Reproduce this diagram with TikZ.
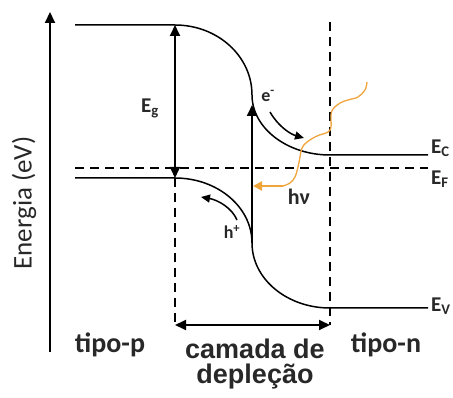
\documentclass[tikz,border=0pt]{standalone}
\usepackage{fontspec}
\setmainfont{Carlito}
\newfontfamily\widefont{Liberation Sans}
\usetikzlibrary{arrows.meta,positioning}

\definecolor{txtgray}{RGB}{40,40,40}
\definecolor{photon}{RGB}{240,165,60}

\tikzset{
  band/.style={line width=1.5pt},
  guide/.style={line width=1.3pt, dash pattern=on 9pt off 6pt},
  dblarrow/.style={line width=1.8pt, {Triangle[length=11pt,width=10pt]}-{Triangle[length=11pt,width=10pt]}},
  uparrow/.style={line width=1.8pt, -{Triangle[length=11pt,width=10pt]}},
  carrier/.style={line width=1.5pt, -{Triangle[length=9pt,width=8pt]}},
  lbl/.style={font=\fontsize{28}{28}\selectfont\bfseries, text=txtgray},
  elbl/.style={font=\fontsize{21}{21}\selectfont\bfseries, text=txtgray},
  small/.style={font=\fontsize{18}{18}\selectfont\bfseries, text=txtgray}
}

\begin{document}
\begin{tikzpicture}[x=1pt, y=-1pt]
  \useasboundingbox (0,0) rectangle (453,398);

  % eixo de energia
  \coordinate (axBot) at (50,352);
  \coordinate (axTop) at (50,12);
  \draw[uparrow, line width=2pt] (axBot) -- (axTop);
  \node[lbl, font=\fontsize{27}{27}\selectfont, rotate=90] (energia) at (24,203) {Energia (eV)};

  % banda de conducao
  \coordinate (cbLeft) at (75,25);
  \coordinate (cbKnee) at (175,25);
  \coordinate (cbMid) at (252,95);
  \coordinate (cbN) at (330,155);
  \coordinate (cbRight) at (428,155);
  \draw[band] (cbLeft) -- (cbKnee)
    .. controls (217.5,25) and (252,56) .. (cbMid)
    .. controls (252,128) and (287,155) .. (cbN) -- (cbRight);

  % nivel de Fermi
  \coordinate (efLeft) at (75,168);
  \coordinate (efRight) at (428,168);
  \draw[guide] (efLeft) -- (efRight);

  % banda de valencia
  \coordinate (vbLeft) at (75,178);
  \coordinate (vbKnee) at (175,178);
  \coordinate (vbMid) at (252,243);
  \coordinate (vbN) at (330,308);
  \coordinate (vbRight) at (428,308);
  \draw[band] (vbLeft) -- (vbKnee)
    .. controls (217.5,178) and (252,207) .. (vbMid)
    .. controls (252,279) and (287,308) .. (vbN) -- (vbRight);

  % limites da camada de deplecao
  \coordinate (depL) at (175,325);
  \coordinate (depR) at (330,325);
  \coordinate (dashTop) at (330,22);
  \draw[guide] (vbKnee) -- (depL);
  \draw[guide] (dashTop) -- (depR);
  \draw[dblarrow] (depL) -- (depR);

  % gap
  \draw[dblarrow] (cbKnee) -- (vbKnee);
  \node[elbl] (eg) at (150,108) {E\textsubscript{g}};

  % excitacao
  \coordinate (exTop) at (252,105);
  \draw[uparrow] (vbMid) -- (exTop);

  % portadores
  \coordinate (eStart) at (270,112);
  \coordinate (eEnd) at (304,138);
  \draw[carrier] (eStart) .. controls (278,126) and (290,134) .. (eEnd);
  \node[small] (elec) at (268,96) {e\textsuperscript{-}};

  \coordinate (hStart) at (237,220);
  \coordinate (hEnd) at (201,197);
  \draw[carrier] (hStart) .. controls (232,208) and (218,200) .. (hEnd);
  \node[small] (hole) at (232,232) {h\textsuperscript{+}};

  % foton
  \coordinate (phEnd) at (283,186);
  \coordinate (phTip) at (253,186);
  \draw[photon, line width=1.3pt] plot[smooth, tension=0.6] coordinates {
    (367,82) (365,90) (358,97) (348,100) (340,103) (333,109) (331,115)
    (331,127) (328,132) (317,136) (307,142) (302,148) (300,157)
    (298,167) (295,177) (290,183) (283,186)};
  \draw[photon, line width=2.6pt, -{Triangle[length=9pt,width=9pt]}] (phEnd) -- (phTip);
  \node[font=\fontsize{22}{22}\selectfont\bfseries, text=txtgray] (hnu) at (299,197) {hν};

  % rotulos das bandas
  \node[elbl, anchor=west, inner sep=0pt] (ec) at (431,148) {E\textsubscript{C}};
  \node[elbl, anchor=west, inner sep=0pt] (ef) at (431,179) {E\textsubscript{F}};
  \node[elbl, anchor=west, inner sep=0pt] (ev) at (431,306) {E\textsubscript{V}};

  % regioes
  \node[lbl] (tipop) at (110,345) {tipo-p};
  \node[lbl] (tipon) at (386,345) {tipo-n};
  \node[font=\widefont\bfseries\fontsize{27}{25}\selectfont, text=txtgray, align=center] (camada) at (255,364) {camada de\\depleção};
\end{tikzpicture}
\end{document}
